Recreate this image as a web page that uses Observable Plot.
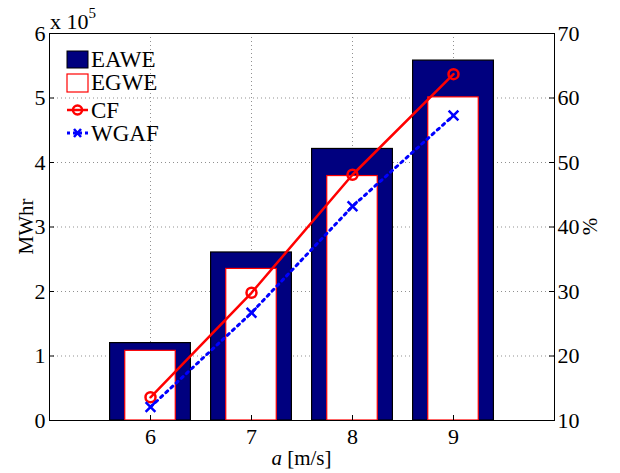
<!DOCTYPE html>
<html><head><meta charset="utf-8">
<script src="https://cdn.jsdelivr.net/npm/d3@7"></script>
<script src="https://cdn.jsdelivr.net/npm/@observablehq/plot@0.6"></script>
<style>
body{margin:0;background:#fff}
svg, svg text{font-family:"Liberation Serif",serif !important}
</style>
</head><body><div id="chart"></div>
<script>
// Data
const windSpeed = [6, 7, 8, 9];
const eawe = [120000, 260500, 421000, 558000];   // MWhr
const egwe = [108000, 235000, 379000, 501000];   // MWhr
const cf   = [13.6, 29.8, 48.1, 63.7];           // %
const wgaf = [12.1, 26.7, 43.2, 57.3];           // %
const xTicks = [6, 7, 8, 9];
const leftTicks = [0, 1, 2, 3, 4, 5, 6];          // x 10^5
const rightTicks = [10, 20, 30, 40, 50, 60, 70];  // %
const seriesNames = ["EAWE", "EGWE", "CF", "WGAF"];

const W = 620, H = 473, mL = 49, mR = 66, mT = 33, mB = 53;
const pw = W - mL - mR, ph = H - mT - mB;
const pctMin = 10, pctMax = 70, yMax = 6e5;
const pctToY = p => (p - pctMin) / (pctMax - pctMin) * yMax;

const rows = windSpeed.map((a, i) => ({a, eawe: eawe[i], egwe: egwe[i], cf: cf[i], wgaf: wgaf[i]}));
const leftVals = leftTicks.map(v => v * 1e5);
const rightVals = rightTicks.map(pctToY);

const gridStyle = {stroke: "#000", strokeOpacity: 0.55, strokeDasharray: "1,3", strokeWidth: 0.8};
const fs = 22;

const chart = Plot.plot({
  width: W, height: H,
  marginLeft: mL, marginRight: mR, marginTop: mT, marginBottom: mB,
  style: {fontFamily: "Liberation Serif", fontSize: fs + "px", background: "#fff", color: "#000"},
  x: {domain: [5, 10]},
  y: {domain: [0, yMax]},
  marks: [
    Plot.gridX(xTicks, gridStyle),
    Plot.gridY(leftVals, gridStyle),
    Plot.rectY(rows, {x1: d => d.a - 0.4, x2: d => d.a + 0.4, y: "eawe", fill: "#00007f", stroke: "#000", strokeWidth: 1.2}),
    Plot.rectY(rows, {x1: d => d.a - 0.25, x2: d => d.a + 0.25, y: "egwe", fill: "#fff", stroke: "#ff0000", strokeWidth: 1.2}),
    Plot.line(rows, {x: "a", y: d => pctToY(d.cf), stroke: "#ff0000", strokeWidth: 2.5}),
    Plot.dot(rows, {x: "a", y: d => pctToY(d.cf), stroke: "#ff0000", strokeWidth: 2.5, r: 5, fill: "none"}),
    Plot.line(rows, {x: "a", y: d => pctToY(d.wgaf), stroke: "#0000ff", strokeWidth: 3, strokeDasharray: "2.5,4.5"}),
    Plot.dot(rows, {x: "a", y: d => pctToY(d.wgaf), symbol: "times", stroke: "#0000ff", strokeWidth: 2.5, r: 4.5}),
    Plot.frame({stroke: "#000", strokeWidth: 1}),
    // inward tick marks
    Plot.tickY(leftVals, {y: d => d, insetRight: pw - 5, stroke: "#000"}),
    Plot.tickY(rightVals, {y: d => d, insetLeft: pw - 5, stroke: "#000"}),
    Plot.tickX(xTicks, {x: d => d, insetTop: ph - 5, stroke: "#000"}),
    Plot.axisX(xTicks, {tickSize: 0, tickPadding: 8, label: null, fontSize: fs}),
    Plot.axisY(leftVals, {anchor: "left", tickSize: 0, tickPadding: 4, tickFormat: d => d / 1e5, label: null, fontSize: fs}),
    Plot.axisY(rightVals, {anchor: "right", tickSize: 0, tickPadding: 3, tickFormat: d => Math.round(d / yMax * (pctMax - pctMin) + pctMin), label: null, fontSize: fs})
  ]
});
document.getElementById("chart").appendChild(chart);

// annotations and legend
const svg = d3.select(chart);
const g = svg.append("g").attr("font-family", "Liberation Serif").attr("fill", "#000").attr("text-anchor", "start");
// exponent
const ex = g.append("text").attr("x", mL + 1).attr("y", 29).attr("font-size", fs);
ex.append("tspan").text("x 10");
ex.append("tspan").attr("dy", -11).attr("font-size", 15).text("5");
// y labels
g.append("text").attr("transform", `translate(33,${mT + ph / 2}) rotate(-90)`).attr("text-anchor", "middle").attr("font-size", 21).text("MWhr");
g.append("text").attr("transform", `translate(597,${mT + ph / 2}) rotate(-90)`).attr("text-anchor", "middle").attr("font-size", 21).text("%");
// x label
const xl = g.append("text").attr("x", mL + pw / 2).attr("y", 465).attr("text-anchor", "middle").attr("font-size", 21);
xl.append("tspan").attr("font-style", "italic").text("a");
xl.append("tspan").text(" [m/s]");

// legend
const lg = svg.append("g").attr("font-family", "Liberation Serif").attr("text-anchor", "start");
const lx = 67, tx = 91;
lg.append("rect").attr("x", lx).attr("y", 51).attr("width", 21).attr("height", 17).attr("fill", "#00007f").attr("stroke", "#000");
lg.append("rect").attr("x", lx).attr("y", 74).attr("width", 21).attr("height", 18).attr("fill", "#fff").attr("stroke", "#ff0000").attr("stroke-width", 1.2);
lg.append("line").attr("x1", lx).attr("x2", lx + 21).attr("y1", 110).attr("y2", 110).attr("stroke", "#ff0000").attr("stroke-width", 2.5);
lg.append("circle").attr("cx", lx + 10.5).attr("cy", 110).attr("r", 4.5).attr("fill", "none").attr("stroke", "#ff0000").attr("stroke-width", 2.5);
lg.append("line").attr("x1", lx).attr("x2", lx + 21).attr("y1", 133).attr("y2", 133).attr("stroke", "#0000ff").attr("stroke-width", 3).attr("stroke-dasharray", "3,3");
lg.append("path").attr("d", `M${lx+7},${129}L${lx+14},${137}M${lx+14},${129}L${lx+7},${137}`).attr("stroke", "#0000ff").attr("stroke-width", 2.5);
const ys = [67, 90, 118, 141];
seriesNames.forEach((n, i) => {
  lg.append("text").attr("x", tx).attr("y", ys[i]).attr("font-size", 23).attr("fill", "#000").text(n);
});
</script>
</body></html>
